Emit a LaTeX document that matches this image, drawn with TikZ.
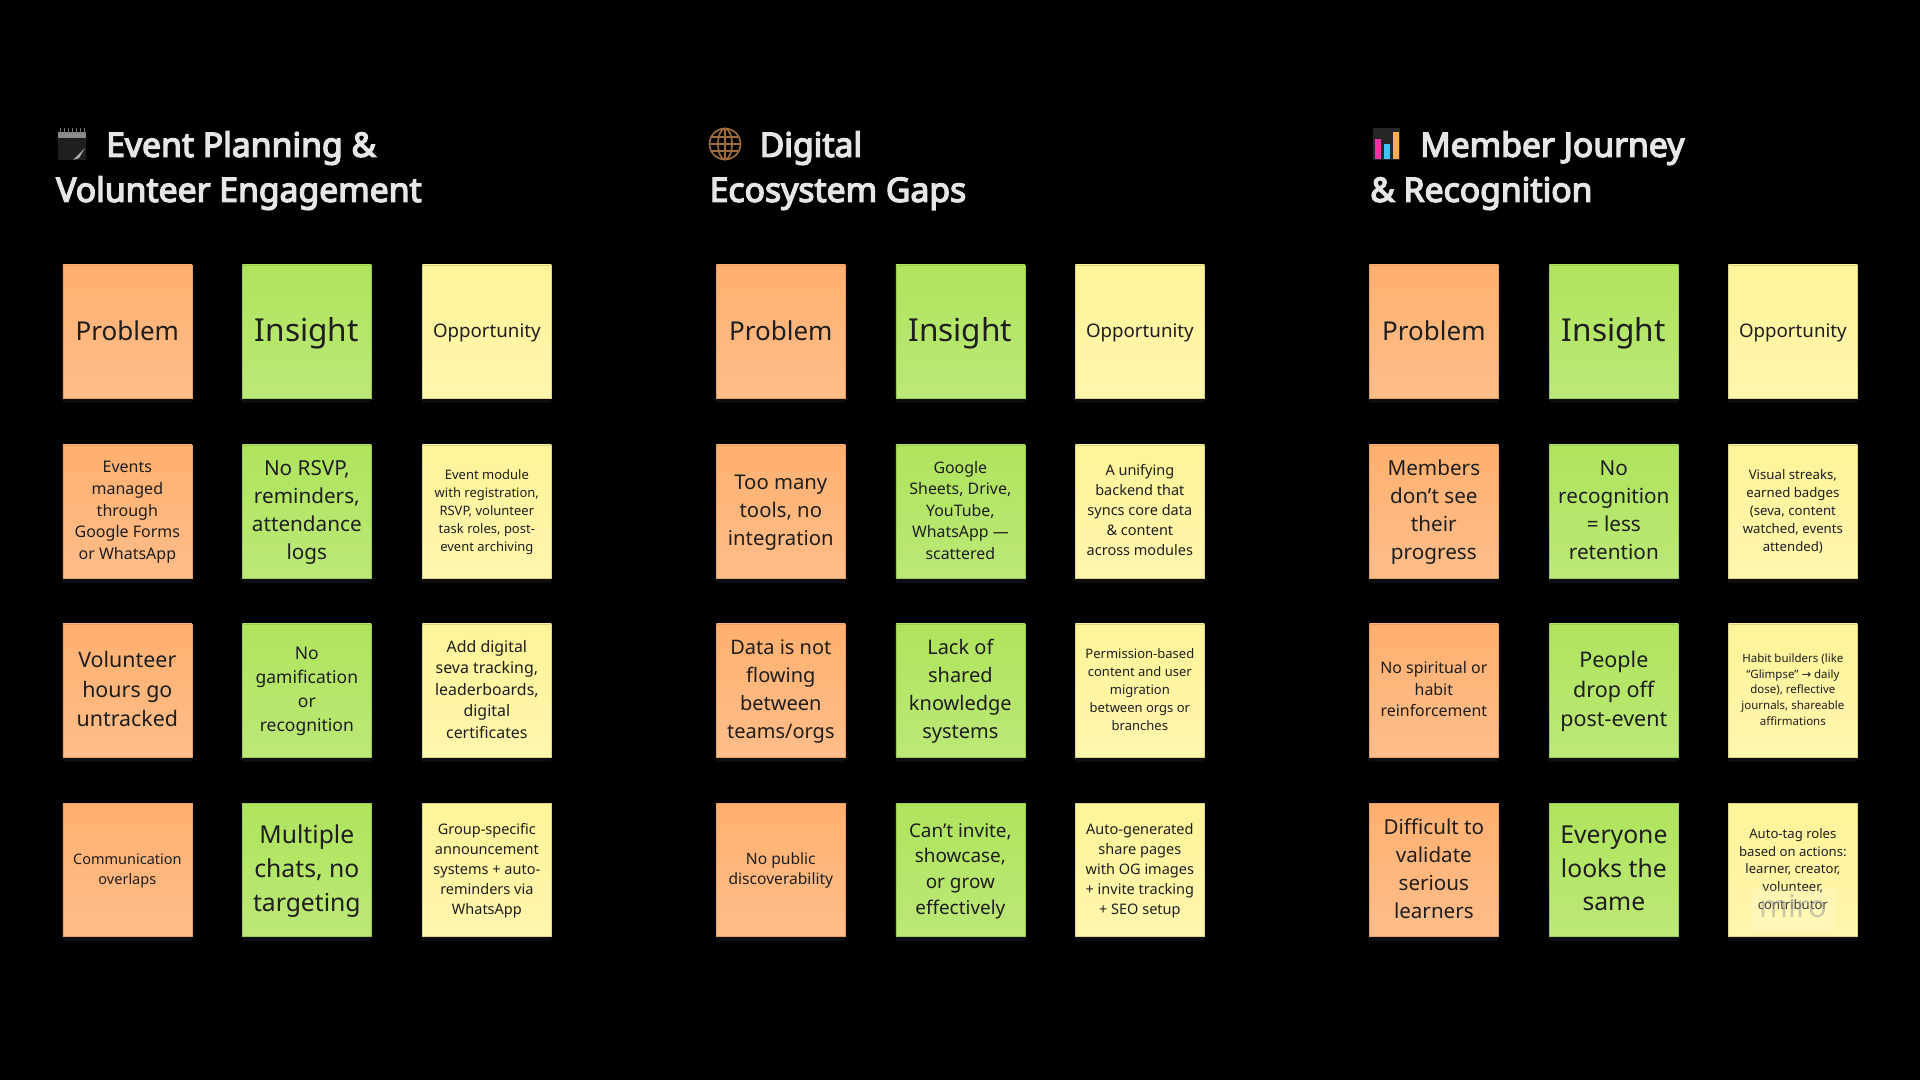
\documentclass[tikz,border=0pt]{standalone}
\usepackage{fontspec}
\setmainfont{Noto Sans}
\newfontfamily\arrowfont{DejaVu Sans}
\newfontfamily\titlefont[FakeBold=4]{Noto Sans}
\usetikzlibrary{shadows}
\definecolor{notetext}{HTML}{1E1E1E}
\definecolor{titletext}{HTML}{E6E6E6}
\definecolor{globeline}{HTML}{9C6C3C}
\definecolor{problemtop}{HTML}{FFB06F}
\definecolor{problembottom}{HTML}{FFBD8A}
\definecolor{problemedge}{HTML}{E8A060}
\definecolor{insighttop}{HTML}{AFE45C}
\definecolor{insightbottom}{HTML}{BCE878}
\definecolor{insightedge}{HTML}{9CCB52}
\definecolor{opportunitytop}{HTML}{FEF498}
\definecolor{opportunitybottom}{HTML}{FFF6AE}
\definecolor{opportunityedge}{HTML}{DDD388}
\tikzset{
  note/.style={anchor=north west, minimum width=129pt, minimum height=133pt, inner sep=0pt, align=center, text=notetext, line width=.7pt,
    drop shadow={shadow xshift=0pt, shadow yshift=-5pt, fill=white, opacity=.05}},
  problem/.style={note, draw=problemedge, top color=problemtop, bottom color=problembottom},
  insight/.style={note, draw=insightedge, top color=insighttop, bottom color=insightbottom},
  opportunity/.style={note, draw=opportunityedge, top color=opportunitytop, bottom color=opportunitybottom},
  fs/.style 2 args={font=\fontsize{#1}{#2}\selectfont, text depth=#1*.13pt},
  title/.style={anchor=north west, inner sep=0pt, align=left, text=titletext, font=\fontsize{33.7}{45}\selectfont\titlefont},
}
\begin{document}
\begin{tikzpicture}[x=1pt,y=-1pt]
\useasboundingbox (0,0) rectangle (1920,1080);
\fill [black] (0,0) rectangle (1920,1080);
% headings
\node [title] (eventTitle) at (56,131) {\hspace*{50pt}Event Planning \&\\Volunteer Engagement};
\node [title] (digitalTitle) at (709.5,131) {\hspace*{50pt}Digital\\Ecosystem Gaps};
\node [title] (memberTitle) at (1370,131) {\hspace*{50pt}Member Journey\\\& Recognition};
% heading icons
\fill [black!88] (58,134) rectangle (86,160);
\fill [black!45] (58,132) rectangle (86,138);
\foreach \x in {60,64,...,84} \draw [black!55, line width=1pt] (\x,128) -- (\x,134);
\fill [black!30] (85,148) -- (79,158) -- (73,160) -- (81,152) -- cycle;
\draw [globeline, line width=1.7pt] (725,144) circle [radius=15.5];
\draw [globeline, line width=1.7pt] (725,144) ellipse [x radius=7, y radius=15.5];
\draw [globeline, line width=1.7pt] (725,128.5) -- (725,159.5);
\draw [globeline, line width=1.7pt] (711,137) -- (739,137);
\draw [globeline, line width=1.7pt] (709.5,144) -- (740.5,144);
\draw [globeline, line width=1.7pt] (711,151) -- (739,151);
\fill [black!85] (1373,128) rectangle (1400,160);
\fill [magenta!80!white] (1375,139) rectangle (1381,159);
\fill [cyan!75!white] (1383.5,144) rectangle (1389.5,159);
\fill [orange!65!white] (1392.5,132) rectangle (1398.5,159);
% event planning
\node [problem, fs={26}{34}, text depth=1pt] (eventProblem) at (62.5,264.5) {Problem};
\node [insight, fs={31.6}{42}] (eventInsight) at (242,264.5) {Insight};
\node [opportunity, fs={18.7}{25}] (eventOpportunity) at (422,264.5) {Opportunity};
\node [problem, fs={16}{21.7}] (eventProblemA) at (62.5,444.5) {Events\\managed\\through\\Google Forms\\or WhatsApp};
\node [insight, fs={20.7}{28.2}] (eventInsightA) at (242,444.5) {No RSVP,\\reminders,\\attendance\\logs};
\node [opportunity, fs={13}{18}] (eventOpportunityA) at (422,444.5) {Event module\\with registration,\\RSVP, volunteer\\task roles, post-\\event archiving};
\node [problem, fs={21.4}{29.4}] (eventProblemB) at (62.5,623.5) {Volunteer\\hours go\\untracked};
\node [insight, fs={17.5}{24}] (eventInsightB) at (242,623.5) {No\\gamification\\or\\recognition};
\node [opportunity, fs={15.9}{21.6}] (eventOpportunityB) at (422,623.5) {Add digital\\seva tracking,\\leaderboards,\\digital\\certificates};
\node [problem, fs={14.5}{20}] (eventProblemC) at (62.5,803) {Communication\\overlaps};
\node [insight, fs={24.7}{33.7}] (eventInsightC) at (242,803) {Multiple\\chats, no\\targeting};
\node [opportunity, fs={14.5}{20}] (eventOpportunityC) at (422,803) {Group-specific\\announcement\\systems + auto-\\reminders via\\WhatsApp};
% digital ecosystem
\node [problem, fs={26}{34}, text depth=1pt] (digitalProblem) at (716,264.5) {Problem};
\node [insight, fs={31.6}{42}] (digitalInsight) at (895.5,264.5) {Insight};
\node [opportunity, fs={18.7}{25}] (digitalOpportunity) at (1075,264.5) {Opportunity};
\node [problem, fs={20.3}{28}] (digitalProblemA) at (716,444.5) {Too many\\tools, no\\integration};
\node [insight, fs={15.9}{21.6}] (digitalInsightA) at (895.5,444.5) {Google\\Sheets, Drive,\\YouTube,\\WhatsApp —\\scattered};
\node [opportunity, fs={14.5}{20}] (digitalOpportunityA) at (1075,444.5) {A unifying\\backend that\\syncs core data\\\& content\\across modules};
\node [problem, fs={20}{28}] (digitalProblemB) at (716,623.5) {Data is not\\flowing\\between\\teams/orgs};
\node [insight, fs={20}{28}] (digitalInsightB) at (895.5,623.5) {Lack of\\shared\\knowledge\\systems};
\node [opportunity, fs={13}{18}] (digitalOpportunityB) at (1075,623.5) {Permission-based\\content and user\\migration\\between orgs or\\branches};
\node [problem, fs={15.6}{20.2}] (digitalProblemC) at (716,803) {No public\\discoverability};
\node [insight, fs={18.9}{25.7}] (digitalInsightC) at (895.5,803) {Can’t invite,\\showcase,\\or grow\\effectively};
\node [opportunity, fs={14.5}{20}] (digitalOpportunityC) at (1075,803) {Auto-generated\\share pages\\with OG images\\+ invite tracking\\+ SEO setup};
% member journey
\node [problem, fs={26}{34}, text depth=1pt] (memberProblem) at (1369,264.5) {Problem};
\node [insight, fs={31.6}{42}] (memberInsight) at (1549,264.5) {Insight};
\node [opportunity, fs={18.7}{25}] (memberOpportunity) at (1728,264.5) {Opportunity};
\node [problem, fs={20.7}{28}] (memberProblemA) at (1369,444.5) {Members\\don’t see\\their\\progress};
\node [insight, fs={20.7}{28}] (memberInsightA) at (1549,444.5) {No\\recognition\\= less\\retention};
\node [opportunity, fs={13.2}{18}] (memberOpportunityA) at (1728,444.5) {Visual streaks,\\earned badges\\(seva, content\\watched, events\\attended)};
\node [problem, fs={15.9}{21.6}] (memberProblemB) at (1369,623.5) {No spiritual or\\habit\\reinforcement};
\node [insight, fs={21.5}{29.3}] (memberInsightB) at (1549,623.5) {People\\drop off\\post-event};
\node [opportunity, fs={11.5}{15.7}] (memberOpportunityB) at (1728,623.5) {Habit builders (like\\“Glimpse” {\arrowfont →} daily\\dose), reflective\\journals, shareable\\affirmations};
\node [problem, fs={20.6}{28}] (memberProblemC) at (1369,803) {Difficult to\\validate\\serious\\learners};
\node [insight, fs={24.7}{33.7}] (memberInsightC) at (1549,803) {Everyone\\looks the\\same};
\node [opportunity, fs={13.1}{17.8}] (memberOpportunityC) at (1728,803) {Auto-tag roles\\based on actions:\\learner, creator,\\volunteer,\\contributor};
% watermark
\node [fill=white, fill opacity=.14, text=black!40, text opacity=.5, minimum width=83pt, minimum height=44pt, inner sep=0pt, text depth=8pt, font=\fontsize{31}{31}\selectfont] (miroMark) at (1793.5,910) {miro};
\end{tikzpicture}
\end{document}
